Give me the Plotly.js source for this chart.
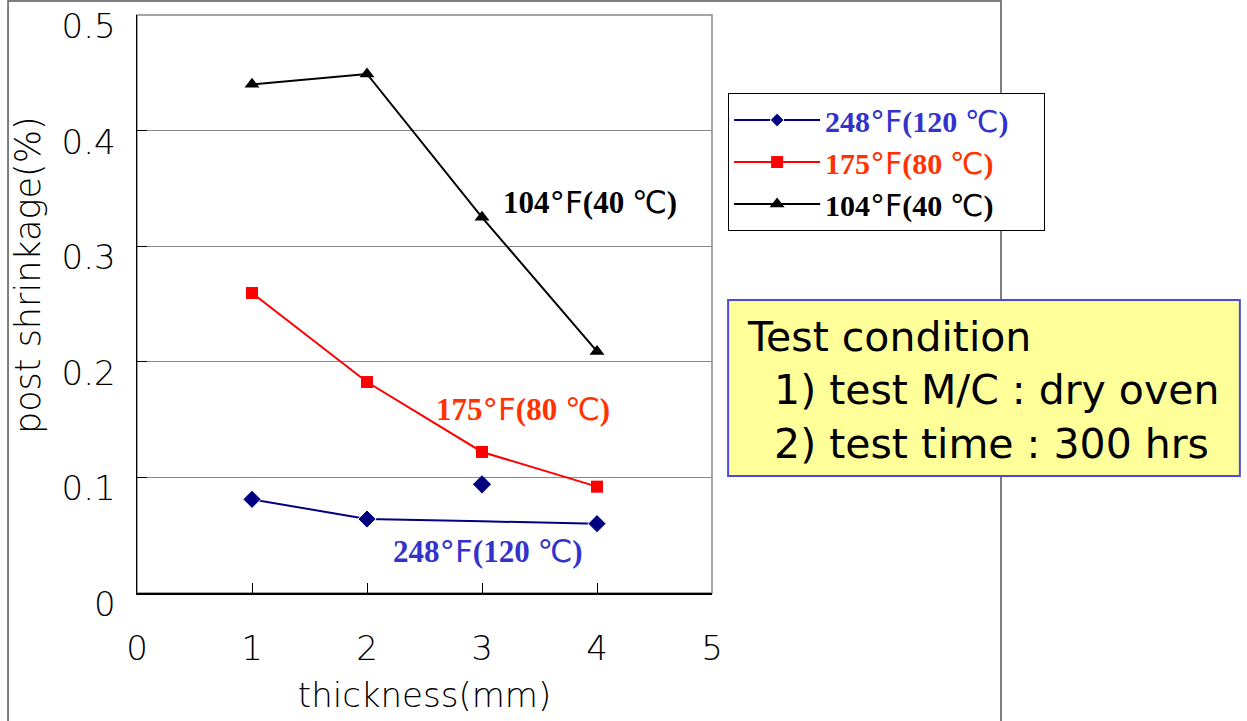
<!DOCTYPE html>
<html>
<head>
<meta charset="utf-8">
<script src="https://cdn.plot.ly/plotly-3.0.1.min.js"></script>
<style>html,body{margin:0;padding:0;background:#fff}#chart{width:1247px;height:721px}</style>
</head>
<body>
<div id="chart"></div>
<script>
// thickness (mm)
const thickness = [1, 2, 3, 4];
// post shrinkage (%)
const shrink248 = [0.081, 0.064, 0.062, 0.060];
const shrink248Outlier = [0.094];
const outlierX = [3];
const shrink175 = [0.2595, 0.1825, 0.122, 0.092];
const shrink104 = [0.440, 0.449, 0.325, 0.209];
const xTicks = [0, 1, 2, 3, 4, 5];
const yTicks = [0, 0.1, 0.2, 0.3, 0.4, 0.5];
const yTickText = ['0', '0.1', '0.2', '0.3', '0.4', '0.5'];

const SANS = '"DejaVu Sans", "Noto Sans", sans-serif';
const SERIF = '"Liberation Serif", "Times New Roman", serif';
function label(f, c) {
  return '<b>' + f + '</b><span style="font-family:DejaVu Sans;font-weight:normal">°F</span><b>(' + c + ' </b><span style="font-family:DejaVu Sans;font-weight:normal">℃</span><b>)</b>';
}
function legLabel(f, c, col) {
  return '<span style="color:' + col + '">' + label(f, c) + '</span>&nbsp;&nbsp;&nbsp;&nbsp;';
}

const traces = [
  {x: thickness, y: shrink248, type: 'scatter', mode: 'lines+markers', name: legLabel('248', '120', '#3333cc'),
   line: {color: '#000080', width: 2},
   marker: {symbol: 'diamond', size: [14, 14, 0, 14], color: '#000080', opacity: 1}},
  {x: thickness, y: shrink175, type: 'scatter', mode: 'lines+markers', name: legLabel('175', '80', '#ff3300'),
   line: {color: '#ff0000', width: 2},
   marker: {symbol: 'square', size: 12, color: '#ff0000'}},
  {x: thickness, y: shrink104, type: 'scatter', mode: 'lines+markers', name: legLabel('104', '40', '#000000'),
   line: {color: '#000000', width: 2},
   marker: {symbol: 'triangle-up', size: 13, color: '#000000'}},
  {x: outlierX, y: shrink248Outlier, type: 'scatter', mode: 'markers', showlegend: false,
   marker: {symbol: 'diamond', size: 14, color: '#000080'}}
];

const layout = {
  width: 1247, height: 721,
  margin: {l: 137, r: 535, t: 15, b: 128},
  paper_bgcolor: '#ffffff', plot_bgcolor: '#ffffff',
  showlegend: true,
  legend: {x: 1.028, y: 0.865, xanchor: 'left', yanchor: 'top',
    bgcolor: '#ffffff', bordercolor: '#000000', borderwidth: 1,
    font: {family: SERIF, size: 30, color: '#000'}, tracegroupgap: 0, itemwidth: 86},
  xaxis: {range: [0, 5], tickvals: xTicks, ticks: 'inside', ticklen: 10, tickcolor: '#000',
    showline: true, linecolor: '#000', linewidth: 1.5, showgrid: false, zeroline: false,
    tickfont: {family: SANS, size: 34, color: '#000', weight: 200}, ticklabelstandoff: 25,
    ticklabeloverflow: 'allow',
    title: {text: 'thickness(mm)', font: {family: SANS, size: 34, color: '#000', weight: 200}, standoff: 16}},
  yaxis: {range: [0, 0.5], tickvals: yTicks, ticktext: yTickText, ticks: 'inside', ticklen: 10, tickcolor: '#000',
    showline: true, linecolor: '#000', linewidth: 1.5, showgrid: true, gridcolor: '#888888', gridwidth: 1,
    zeroline: false, tickfont: {family: SANS, size: 34, color: '#000', weight: 200}, ticklabelstandoff: 13,
    ticklabelshift: 11, ticklabeloverflow: 'allow'},
  shapes: [
    {type: 'rect', xref: 'paper', yref: 'paper', x0: -0.2243, x1: 1.5026, y0: -0.25, y1: 1.0242,
     line: {color: '#555555', width: 1.5}, layer: 'below'},
    {type: 'rect', xref: 'paper', yref: 'paper', x0: 0, x1: 1, y0: 0, y1: 1,
     line: {color: '#888888', width: 1.5}, layer: 'below'},
    {type: 'rect', xref: 'paper', yref: 'paper', x0: 1.028, x1: 1.918, y0: 0.2024, y1: 0.507,
     line: {color: '#4a4ae0', width: 2}, fillcolor: '#ffff99', layer: 'above'}
  ],
  annotations: [
    {x: -0.1896, y: 0.55, xref: 'paper', yref: 'paper', xanchor: 'center', yanchor: 'middle',
     showarrow: false, textangle: -90,
     text: 'post shrinkage(%)', font: {family: SANS, size: 35, color: '#000', weight: 200}},
    {x: 3.94, y: 0.338, xref: 'x', yref: 'y', showarrow: false, text: label('104', '40'),
     font: {family: SERIF, size: 31, color: '#000000'}},
    {x: 3.36, y: 0.159, xref: 'x', yref: 'y', showarrow: false, text: label('175', '80'),
     font: {family: SERIF, size: 31, color: '#ff3300'}},
    {x: 3.05, y: 0.036, xref: 'x', yref: 'y', showarrow: false, text: label('248', '120'),
     font: {family: SERIF, size: 31, color: '#3333cc'}},
    {x: 1.058, y: 0.351, xref: 'paper', yref: 'paper', xanchor: 'left', yanchor: 'middle', showarrow: false,
     align: 'left', text: 'Test condition<br>  1) test M/C : dry oven<br>  2) test time : 300 hrs',
     font: {family: SANS, size: 41, color: '#000000', weight: 400}}
  ]
};

Plotly.newPlot('chart', traces, layout, {displayModeBar: false, staticPlot: true});
</script>
</body>
</html>
